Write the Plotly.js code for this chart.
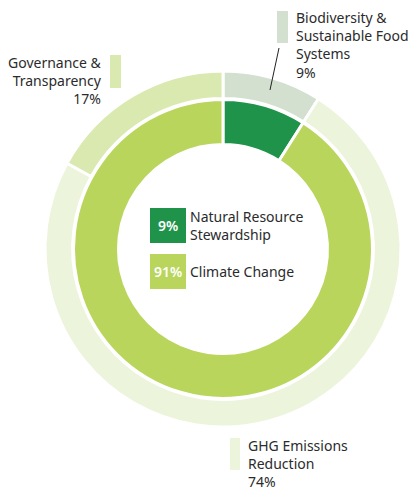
<!DOCTYPE html>
<html>
<head>
<meta charset="utf-8">
<script src="https://cdn.plot.ly/plotly-3.0.1.min.js"></script>
<style>html,body{margin:0;padding:0;background:#fff;}#chart{width:411px;height:491px;}</style>
</head>
<body>
<div id="chart"></div>
<script>
// Outer ring: sub-themes
const outerLabels = ["Biodiversity & Sustainable Food Systems", "GHG Emissions Reduction", "Governance & Transparency"];
const outerValues = [9, 74, 17];
const outerColors = ["#d3e0d0", "#ecf4dc", "#dae9b0"];
// Inner ring: themes
const innerLabels = ["Natural Resource Stewardship", "Climate Change"];
const innerValues = [9, 91];
const innerColors = ["#1e9349", "#b9d55c"];

const W = 411, H = 491;
const px = x => x / W;
const py = y => 1 - y / H;
const FONT = "Noto Sans, sans-serif";
const TXT = "#2b2b2b";

const traces = [
  {
    type: "pie", labels: outerLabels, values: outerValues, sort: false,
    direction: "clockwise", rotation: 0, hole: 0.845,
    marker: {colors: outerColors, line: {color: "#ffffff", width: 3}},
    textinfo: "none", hoverinfo: "label+percent", showlegend: false,
    domain: {x: [0.1095, 0.9757], y: [0.1303, 0.8554]}
  },
  {
    type: "pie", labels: innerLabels, values: innerValues, sort: false,
    direction: "clockwise", rotation: 0, hole: 0.699,
    marker: {colors: innerColors, line: {color: "#ffffff", width: 3}},
    textinfo: "none", hoverinfo: "label+percent", showlegend: false,
    domain: {x: [0.1788, 0.9063], y: [0.1884, 0.7974]}
  }
];

const rect = (x0, y0, x1, y1, c) => ({type: "rect", xref: "paper", yref: "paper",
  x0: px(x0), x1: px(x1), y0: py(y1), y1: py(y0), fillcolor: c, line: {width: 0}});

const shapes = [
  rect(277, 11, 288, 43, outerColors[0]),
  rect(230, 438, 240, 470, outerColors[1]),
  rect(110, 55, 121, 88, outerColors[2]),
  rect(150, 208, 186, 243, innerColors[0]),
  rect(150, 254, 186, 289, innerColors[1]),
  {type: "line", xref: "paper", yref: "paper", x0: px(279), y0: py(48), x1: px(270), y1: py(90),
   line: {color: "#222222", width: 1}}
];

const ann = (x, y, text, xa, align, extra) => Object.assign({
  xref: "paper", yref: "paper", x: px(x), y: py(y), text: text, showarrow: false,
  xanchor: xa, yanchor: "middle", align: align,
  font: {family: FONT, size: 14, color: TXT}
}, extra || {});

const annotations = [
  ann(294, 45.5, "Biodiversity &<br>Sustainable Food<br>Systems<br>" + outerValues[0] + "%", "left", "left"),
  ann(104, 80.5, "Governance &<br>Transparency<br>" + outerValues[2] + "%", "right", "right"),
  ann(246, 463.5, "GHG Emissions<br>Reduction<br>" + outerValues[1] + "%", "left", "left"),
  ann(188, 225, "Natural Resource<br>Stewardship", "left", "left"),
  ann(188, 271, "Climate Change", "left", "left"),
  ann(168, 225.5, innerValues[0] + "%", "center", "center", {font: {family: FONT, size: 14, color: "#ffffff", weight: 600}}),
  ann(168, 271.5, innerValues[1] + "%", "center", "center", {font: {family: FONT, size: 14, color: "#ffffff", weight: 600}})
];

Plotly.newPlot("chart", traces, {
  width: W, height: H, margin: {l: 0, r: 0, t: 0, b: 0},
  paper_bgcolor: "#ffffff", showlegend: false,
  shapes: shapes, annotations: annotations
}, {staticPlot: true, displayModeBar: false});
</script>
</body>
</html>
